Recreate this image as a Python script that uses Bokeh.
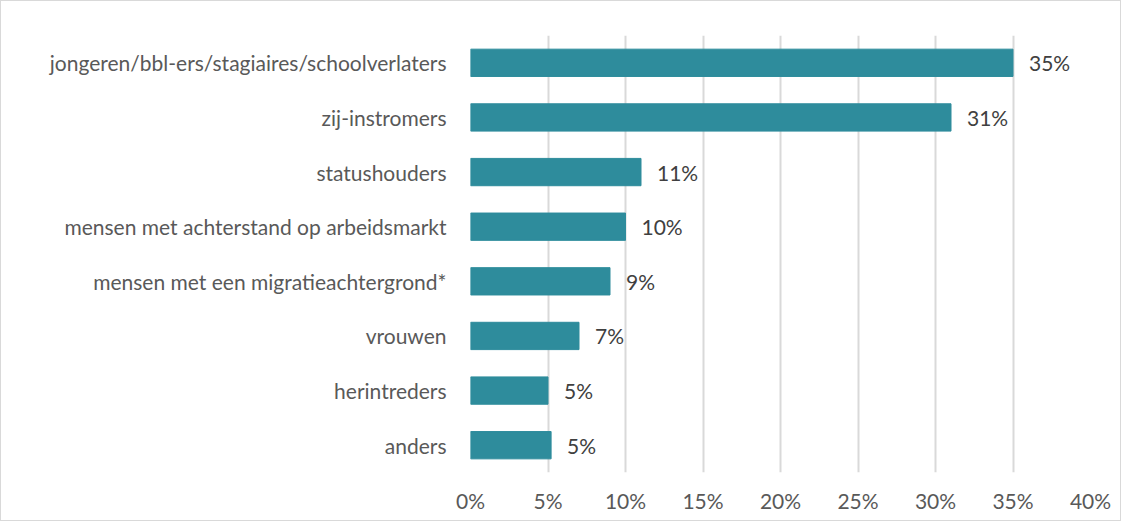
from bokeh.plotting import figure
from bokeh.models import ColumnDataSource, FactorRange, Range1d, FixedTicker, CustomJSTickFormatter
from bokeh.core.properties import value
from bokeh.embed import file_html
from bokeh.resources import INLINE

categories = [
    "jongeren/bbl-ers/stagiaires/schoolverlaters",
    "zij-instromers",
    "statushouders",
    "mensen met achterstand op arbeidsmarkt",
    "mensen met een migratieachtergrond*",
    "vrouwen",
    "herintreders",
    "anders",
]
values = [35.0, 31.0, 11.0, 10.0, 9.0, 7.0, 5.0, 5.2]
value_labels = ["35%", "31%", "11%", "10%", "9%", "7%", "5%", "5%"]
x_ticks = [0, 5, 10, 15, 20, 25, 30, 35, 40]

FONT = "Lato"
FS = "21px"
BAR = "#2E8C9C"

src = ColumnDataSource(dict(cat=categories, val=values, lab=value_labels))

p = figure(
    width=1121, height=521,
    y_range=FactorRange(factors=list(reversed(categories)), range_padding=0),
    x_range=Range1d(0, 40),
    output_backend="svg", toolbar_location=None,
    min_border_left=469, min_border_right=32, min_border_top=34, min_border_bottom=50,
)
p.styles = {"border": "1px solid #d9d9d9"}
p.outline_line_color = None

p.hbar(y="cat", right="val", left=0, height=0.5, source=src,
       fill_color=BAR, line_color=BAR)
p.text(x="val", y="cat", text="lab", source=src, x_offset=16,
       text_align="left", text_baseline="middle",
       text_font_size=FS, text_color="#404040", text_font=value(FONT))

p.xaxis.ticker = FixedTicker(ticks=x_ticks)
p.xaxis.formatter = CustomJSTickFormatter(code="return tick + '%';")
p.xaxis.axis_line_color = None
p.xaxis.major_tick_line_color = None
p.xaxis.minor_tick_line_color = None
p.xaxis.major_label_standoff = 9
p.xaxis.major_label_text_font = FONT
p.xaxis.major_label_text_font_size = FS
p.xaxis.major_label_text_color = "#595959"

p.yaxis.axis_line_color = None
p.yaxis.major_tick_line_color = None
p.yaxis.minor_tick_line_color = None
p.yaxis.major_label_standoff = 18
p.yaxis.major_label_text_font = FONT
p.yaxis.major_label_text_font_size = FS
p.yaxis.major_label_text_color = "#595959"

p.xgrid.grid_line_color = "#d9d9d9"
p.xgrid.grid_line_width = 2
p.ygrid.grid_line_color = None

open("out.html", "w").write(file_html(p, INLINE))
